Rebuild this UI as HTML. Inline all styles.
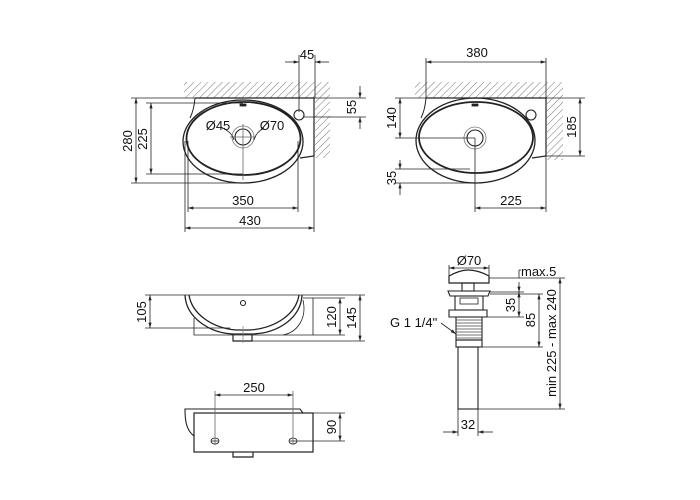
<!DOCTYPE html>
<html><head><meta charset="utf-8"><style>
html,body{margin:0;padding:0;background:#fff;}
svg{display:block;}
text{font-family:"Liberation Sans",sans-serif;font-size:13px;fill:#111;}
</style></head><body>
<svg width="700" height="500" viewBox="0 0 700 500" xmlns="http://www.w3.org/2000/svg">
<defs>
<pattern id="h" width="5" height="5" patternUnits="userSpaceOnUse" patternTransform="rotate(45)">
<line x1="0" y1="0" x2="0" y2="5" stroke="#666" stroke-width="0.9"/>
</pattern>
<marker id="a" viewBox="0 0 10 6" refX="10" refY="3" markerWidth="7" markerHeight="4" orient="auto-start-reverse"><path d="M0,0 L10,3 L0,6 z" fill="#222"/></marker>
</defs>
<g fill="none" stroke="#222" stroke-width="0.8">
<!-- VIEW 1 -->
<rect x="184" y="82" width="146" height="16" fill="url(#h)" stroke="none"/>
<rect x="315" y="98" width="15" height="60" fill="url(#h)" stroke="none"/>
<path d="M195,98 L314,98 L314,156 L300,158" stroke-width="1.2"/>
<path d="M195,98 Q194,110 190,118" stroke-width="1"/>
<ellipse cx="243" cy="141.5" rx="60" ry="41.5" stroke-width="1.3"/>
<ellipse cx="243.5" cy="138.5" rx="57" ry="36.5" stroke-width="1.8"/>
<circle cx="243" cy="137" r="8" stroke-width="1.1"/>
<circle cx="243" cy="137" r="11" stroke="#777"/>
<line x1="243" y1="124" x2="243" y2="180" stroke="#666"/>
<line x1="230" y1="137" x2="256" y2="137" stroke="#666"/>
<circle cx="299" cy="115" r="5" stroke-width="1.1"/>
<rect x="240" y="104" width="6" height="2" fill="#222"/>
<path d="M222,128 Q232,132 234,140" />
<path d="M264,128 Q256,132 254,140" />
<line x1="299" y1="55" x2="299" y2="112"/><line x1="315" y1="55" x2="315" y2="98"/>
<line x1="285" y1="62" x2="299" y2="62" marker-end="url(#a)"/><line x1="329" y1="62" x2="315" y2="62" marker-end="url(#a)"/>
<line x1="314" y1="98" x2="366" y2="98"/><line x1="304" y1="117" x2="366" y2="117"/>
<line x1="360" y1="86" x2="360" y2="98" marker-end="url(#a)"/><line x1="360" y1="129" x2="360" y2="117" marker-end="url(#a)"/>
<line x1="131" y1="98" x2="195" y2="98"/><line x1="131" y1="183" x2="243" y2="183"/>
<line x1="136" y1="98" x2="136" y2="183" marker-start="url(#a)" marker-end="url(#a)"/>
<line x1="146" y1="103" x2="243" y2="103"/><line x1="146" y1="174" x2="243" y2="174"/>
<line x1="151" y1="103" x2="151" y2="174" marker-start="url(#a)" marker-end="url(#a)"/>
<line x1="188" y1="141" x2="188" y2="212"/><line x1="298" y1="141" x2="298" y2="212"/>
<line x1="188" y1="208" x2="298" y2="208" marker-start="url(#a)" marker-end="url(#a)"/>
<line x1="185" y1="141" x2="185" y2="232"/><line x1="314" y1="156" x2="314" y2="232"/>
<line x1="185" y1="228" x2="314" y2="228" marker-start="url(#a)" marker-end="url(#a)"/>
<!-- VIEW 2 -->
<rect x="415" y="82" width="148" height="16" fill="url(#h)" stroke="none"/>
<rect x="547" y="98" width="16" height="62" fill="url(#h)" stroke="none"/>
<path d="M426,98 L546,98 L546,156 L532,158" stroke-width="1.2"/>
<path d="M426,98 Q425,110 421,118" stroke-width="1"/>
<ellipse cx="475.5" cy="140.5" rx="59.5" ry="42.5" stroke-width="1.3"/>
<ellipse cx="476" cy="137.5" rx="57" ry="35.5" stroke-width="1.8"/>
<circle cx="475" cy="138" r="8" stroke-width="1.1"/>
<circle cx="475" cy="138" r="11" stroke="#777"/>
<circle cx="531" cy="115" r="5" stroke-width="1.1"/>
<rect x="472" y="104" width="6" height="2" fill="#222"/>
<line x1="426" y1="58" x2="426" y2="98"/><line x1="546" y1="58" x2="546" y2="98"/>
<line x1="426" y1="62" x2="546" y2="62" marker-start="url(#a)" marker-end="url(#a)"/>
<line x1="395" y1="98" x2="426" y2="98"/><line x1="395" y1="138" x2="475" y2="138"/>
<line x1="400" y1="98" x2="400" y2="138" marker-start="url(#a)" marker-end="url(#a)"/>
<line x1="546" y1="98" x2="585" y2="98"/><line x1="546" y1="156" x2="585" y2="156"/>
<line x1="580" y1="98" x2="580" y2="156" marker-start="url(#a)" marker-end="url(#a)"/>
<line x1="395" y1="169" x2="470" y2="169"/><line x1="395" y1="183" x2="476" y2="183"/>
<line x1="400" y1="160" x2="400" y2="169" marker-end="url(#a)"/><line x1="400" y1="195" x2="400" y2="183" marker-end="url(#a)"/>
<line x1="475" y1="138" x2="475" y2="212"/><line x1="546" y1="156" x2="546" y2="212"/>
<line x1="475" y1="208" x2="546" y2="208" marker-start="url(#a)" marker-end="url(#a)"/>
<!-- VIEW 3 side -->
<line x1="145" y1="295" x2="303" y2="295"/>
<path d="M185,295 C186,318 210,333 233,334 L253,334 C278,333 301,318 302,295" stroke-width="1.3"/>
<path d="M189,295 C192,314 212,328 236,330 L250,330 C276,328 296,314 299,295" stroke-width="1.3"/>
<path d="M233,334 L233,341 L252,341 L252,334" stroke-width="1.2"/>
<line x1="243" y1="326" x2="243" y2="343" stroke="#888"/>
<circle cx="243" cy="303" r="2.5" stroke-width="1.1"/>
<path d="M303,298 L313,298 L313,335 L194,335 L194,318"/>
<path d="M303,300 C307,318 298,332 283,335"/>
<line x1="145" y1="328" x2="230" y2="328"/>
<line x1="150" y1="295" x2="150" y2="328" marker-start="url(#a)" marker-end="url(#a)"/>
<line x1="313" y1="298" x2="345" y2="298"/><line x1="313" y1="335" x2="345" y2="335"/>
<line x1="340" y1="298" x2="340" y2="335" marker-start="url(#a)" marker-end="url(#a)"/>
<line x1="303" y1="295" x2="365" y2="295"/><line x1="252" y1="341" x2="365" y2="341"/>
<line x1="360" y1="295" x2="360" y2="341" marker-start="url(#a)" marker-end="url(#a)"/>
<!-- VIEW 4 back -->
<rect x="194" y="413" width="119" height="39" stroke-width="1.2"/>
<path d="M194,436 C186,430 185,420 185,409 L300,409 L303,413" stroke-width="1.1"/>
<path d="M233,452 L233,457 L253,457 L253,452" stroke-width="1.2"/>
<ellipse cx="215" cy="441" rx="4" ry="3"/><ellipse cx="293" cy="441" rx="4" ry="3"/>
<line x1="215" y1="391" x2="215" y2="445" stroke="#666"/><line x1="293" y1="391" x2="293" y2="445" stroke="#666"/>
<line x1="211" y1="441" x2="219" y2="441"/><line x1="289" y1="441" x2="345" y2="441"/>
<line x1="215" y1="395" x2="293" y2="395" marker-start="url(#a)" marker-end="url(#a)"/>
<line x1="313" y1="413" x2="345" y2="413"/>
<line x1="340" y1="413" x2="340" y2="441" marker-start="url(#a)" marker-end="url(#a)"/>
<!-- VIEW 5 drain -->
<path d="M449,283 L449,276 Q460,270 468,270 Q478,270 489,276 L489,283 Z" stroke-width="1.2"/>
<rect x="462" y="283" width="12" height="8" stroke-width="1.1"/>
<path d="M448,291 L490,291 L488,296 L450,296 Z" stroke-width="1.1"/>
<rect x="455" y="296" width="28" height="14" stroke-width="1.1"/>
<rect x="460" y="298" width="18" height="6"/>
<path d="M449,310 L487,310 L487,317 L449,317 Z" stroke-width="1.1"/>
<rect x="456" y="317" width="26" height="23" stroke-width="1.1"/>
<g stroke="#444" stroke-width="0.7">
<line x1="456" y1="320" x2="482" y2="320"/><line x1="456" y1="323" x2="482" y2="323"/><line x1="456" y1="326" x2="482" y2="326"/><line x1="456" y1="329" x2="482" y2="329"/><line x1="456" y1="332" x2="482" y2="332"/><line x1="456" y1="335" x2="482" y2="335"/><line x1="456" y1="338" x2="482" y2="338"/>
</g>
<rect x="456" y="340" width="26" height="7" stroke-width="1.1"/>
<rect x="458" y="347" width="20" height="62" stroke-width="1.1"/>
<line x1="449" y1="265" x2="449" y2="276"/><line x1="489" y1="265" x2="489" y2="276"/>
<line x1="449" y1="268" x2="489" y2="268" marker-start="url(#a)" marker-end="url(#a)"/>
<line x1="489" y1="278" x2="565" y2="278"/><line x1="519" y1="278" x2="519" y2="270"/><line x1="519" y1="270" x2="521" y2="270"/>
<line x1="490" y1="292" x2="524" y2="292"/>
<line x1="519" y1="282" x2="519" y2="292" marker-end="url(#a)"/>
<line x1="487" y1="317" x2="524" y2="317"/>
<line x1="519" y1="292" x2="519" y2="317" marker-start="url(#a)" marker-end="url(#a)"/>
<line x1="490" y1="294" x2="543" y2="294"/><line x1="482" y1="347" x2="543" y2="347"/>
<line x1="539" y1="294" x2="539" y2="347" marker-start="url(#a)" marker-end="url(#a)"/>
<line x1="478" y1="409" x2="565" y2="409"/>
<line x1="560" y1="278" x2="560" y2="409" marker-start="url(#a)" marker-end="url(#a)"/>
<line x1="458" y1="409" x2="458" y2="436"/><line x1="478" y1="409" x2="478" y2="436"/>
<line x1="443" y1="432" x2="458" y2="432" marker-end="url(#a)"/><line x1="493" y1="432" x2="478" y2="432" marker-end="url(#a)"/>
<line x1="441" y1="323" x2="456" y2="334" marker-end="url(#a)"/>
</g>
<text x="307" y="59" text-anchor="middle">45</text>
<text transform="translate(356,107) rotate(-90)" text-anchor="middle">55</text>
<text transform="translate(132,141) rotate(-90)" text-anchor="middle">280</text>
<text transform="translate(147,139) rotate(-90)" text-anchor="middle">225</text>
<text x="218" y="130" text-anchor="middle">Ø45</text>
<text x="272" y="130" text-anchor="middle">Ø70</text>
<text x="243" y="205" text-anchor="middle">350</text>
<text x="250" y="225" text-anchor="middle">430</text>
<text x="477" y="57" text-anchor="middle">380</text>
<text transform="translate(396,118) rotate(-90)" text-anchor="middle">140</text>
<text transform="translate(576,127) rotate(-90)" text-anchor="middle">185</text>
<text transform="translate(396,178) rotate(-90)" text-anchor="middle">35</text>
<text x="511" y="205" text-anchor="middle">225</text>
<text transform="translate(146,312) rotate(-90)" text-anchor="middle">105</text>
<text transform="translate(336,317) rotate(-90)" text-anchor="middle">120</text>
<text transform="translate(356,318) rotate(-90)" text-anchor="middle">145</text>
<text x="254" y="392" text-anchor="middle">250</text>
<text transform="translate(336,427) rotate(-90)" text-anchor="middle">90</text>
<text x="469" y="265" text-anchor="middle">Ø70</text>
<text x="521" y="276">max.5</text>
<text transform="translate(515,305) rotate(-90)" text-anchor="middle">35</text>
<text transform="translate(535,320) rotate(-90)" text-anchor="middle">85</text>
<text transform="translate(556,343) rotate(-90)" text-anchor="middle">min 225 - max 240</text>
<text x="390" y="327">G 1 1/4"</text>
<text x="468" y="429" text-anchor="middle">32</text>
</svg>
</body></html>
